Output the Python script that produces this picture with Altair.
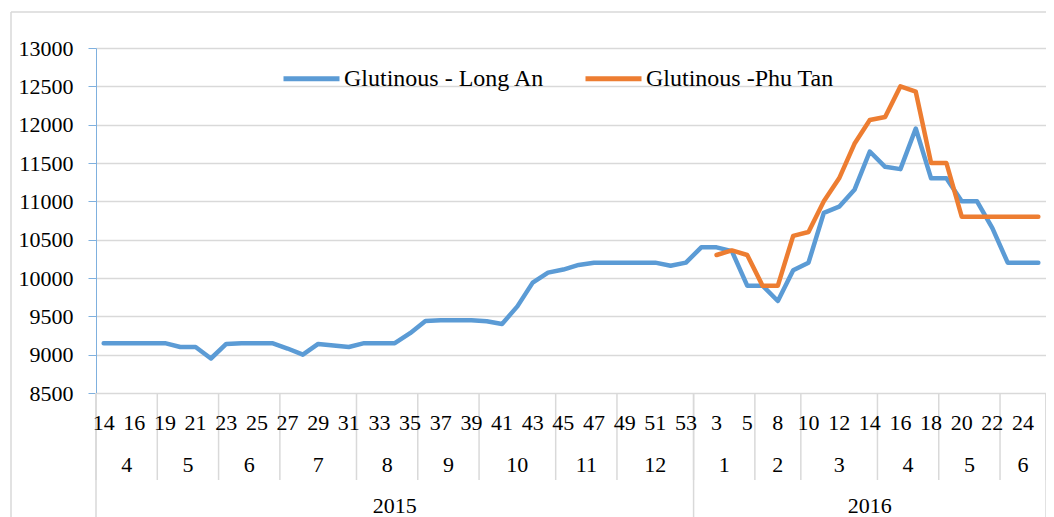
import altair as alt
import pandas as pd

# ---------------- data ----------------
S1 = "Glutinous - Long An"
S2 = "Glutinous -Phu Tan"

weeks = [14, 15, 16, 17, 19, 20, 21, 22, 23, 24, 25, 26, 27, 28, 29, 30, 31, 32, 33, 34,
         35, 36, 37, 38, 39, 40, 41, 42, 43, 44, 45, 46, 47, 48, 49, 50, 51, 52, 53,
         2, 3, 4, 5, 7, 8, 9, 10, 11, 12, 13, 14, 15, 16, 17, 18, 19, 20, 21, 22, 23, 24, 25]

month_labels = ["4", "5", "6", "7", "8", "9", "10", "11", "12", "1", "2", "3", "4", "5", "6"]
month_sizes = [4, 4, 4, 5, 4, 4, 5, 4, 5, 4, 3, 5, 4, 4, 3]

year_labels = ["2015", "2016"]
year_sizes = [39, 23]

long_an = [9150, 9150, 9150, 9150, 9150, 9100, 9100, 8950, 9140, 9150, 9150, 9150, 9080, 9000,
           9140, 9120, 9100, 9150, 9150, 9150, 9280, 9440, 9450, 9450, 9450, 9435, 9400, 9630,
           9940, 10070, 10110, 10170, 10200, 10200, 10200, 10200, 10200, 10160, 10200,
           10400, 10400, 10350, 9900, 9900, 9700, 10100, 10200, 10850, 10930, 11150, 11650,
           11450, 11420, 11950, 11300, 11300, 11000, 11000, 10650, 10200, 10200, 10200]

phu_tan = [None] * 40 + [10300, 10360, 10300, 9900, 9900, 10550, 10600, 11000, 11300, 11750,
                         12060, 12100, 12500, 12430, 11500, 11500, 10800, 10800, 10800, 10800,
                         10800, 10800]

y_ticks = [8500, 9000, 9500, 10000, 10500, 11000, 11500, 12000, 12500, 13000]

# ---------------- styling ----------------
FONT = "Liberation Serif, Times New Roman, DejaVu Serif, serif"
FS = 22
BLUE = "#5B9BD5"
ORANGE = "#ED7D31"
GRID = "#D9D9D9"
AXIS_BLUE = "#7FB0DE"
W, H = 950, 345

n = len(weeks)
xs = alt.Scale(domain=[-0.5, n - 0.5], nice=False, zero=False)
ys = alt.Scale(domain=[8500, 13000], nice=False, zero=False)

rows = []
for i, (a, b) in enumerate(zip(long_an, phu_tan)):
    rows.append({"idx": i, "series": S1, "value": a})
    if b is not None:
        rows.append({"idx": i, "series": S2, "value": b})
df = pd.DataFrame(rows)

week_df = pd.DataFrame({"idx": list(range(n)), "label": [str(w) for w in weeks]})
week_df = week_df[week_df["idx"] % 2 == 0].reset_index(drop=True)

m_rows, mb_rows = [], []
start = 0
for lab, sz in zip(month_labels, month_sizes):
    m_rows.append({"pos": start + sz / 2 - 0.5, "label": lab})
    mb_rows.append({"pos": start - 0.5})
    start += sz
mb_rows.append({"pos": start - 0.5})
month_df = pd.DataFrame(m_rows)
mbound_df = pd.DataFrame(mb_rows)

y_rows, yb_rows = [], []
start = 0
for lab, sz in zip(year_labels, year_sizes):
    y_rows.append({"pos": start + sz / 2 - 0.5, "label": lab})
    yb_rows.append({"pos": start - 0.5})
    start += sz
yb_rows.append({"pos": start - 0.5})
year_df = pd.DataFrame(y_rows)
ybound_df = pd.DataFrame(yb_rows)

# ---------------- layers ----------------
one = pd.DataFrame({"a": [0]})
border_left = alt.Chart(one).mark_rule(color=GRID, strokeWidth=1.5).encode(
    x=alt.value(-85), y=alt.value(-36), y2=alt.value(700))
border_top = alt.Chart(one).mark_rule(color=GRID, strokeWidth=1.5).encode(
    x=alt.value(-85), x2=alt.value(1100), y=alt.value(-36))

lines = alt.Chart(df).mark_line(strokeWidth=4.5, strokeCap="round", strokeJoin="round").encode(
    x=alt.X("idx:Q", scale=xs, axis=None),
    y=alt.Y("value:Q", scale=ys, axis=alt.Axis(
        values=y_ticks, format="d", title=None, grid=True, gridColor=GRID, gridWidth=1.5,
        domainColor=AXIS_BLUE, domainWidth=1, tickColor=AXIS_BLUE, tickSize=8,
        labelFont=FONT, labelFontSize=FS, labelColor="black", labelPadding=15)),
    color=alt.Color("series:N", scale=alt.Scale(domain=[S1, S2], range=[BLUE, ORANGE]),
                    legend=alt.Legend(orient="none", legendX=185, legendY=0, direction="horizontal",
                                      title=None, symbolType="stroke", symbolSize=3136,
                                      symbolStrokeWidth=5, labelFont=FONT, labelFontSize=24,
                                      labelColor="black", labelOffset=2, labelLimit=0,
                                      columnPadding=30)),
)

mticks = alt.Chart(mbound_df).mark_tick(orient="vertical", color=GRID, thickness=1.5, size=87, opacity=1).encode(
    x=alt.X("pos:Q", scale=xs, axis=None), y=alt.value((H + 432) / 2))
yticks = alt.Chart(ybound_df).mark_tick(orient="vertical", color=GRID, thickness=1.5, size=300, opacity=1).encode(
    x=alt.X("pos:Q", scale=xs, axis=None), y=alt.value(H + 150))

wtext = alt.Chart(week_df).mark_text(font=FONT, fontSize=FS, color="black", baseline="middle").encode(
    x=alt.X("idx:Q", scale=xs, axis=None), y=alt.value(375), text="label:N")
mtext = alt.Chart(month_df).mark_text(font=FONT, fontSize=FS, color="black", baseline="middle").encode(
    x=alt.X("pos:Q", scale=xs, axis=None), y=alt.value(417), text="label:N")
ytext = alt.Chart(year_df).mark_text(font=FONT, fontSize=FS, color="black", baseline="middle").encode(
    x=alt.X("pos:Q", scale=xs, axis=None), y=alt.value(458), text="label:N")

chart = alt.layer(border_left, border_top, mticks, yticks, lines, wtext, mtext, ytext).properties(
    width=W, height=H,
    autosize=alt.AutoSizeParams(type="none"),
    padding={"left": 88, "top": 40, "right": 0, "bottom": 124},
    background="white",
).configure_view(stroke=None)

chart.save("out.html", embed_options={"renderer": "svg", "actions": False})
